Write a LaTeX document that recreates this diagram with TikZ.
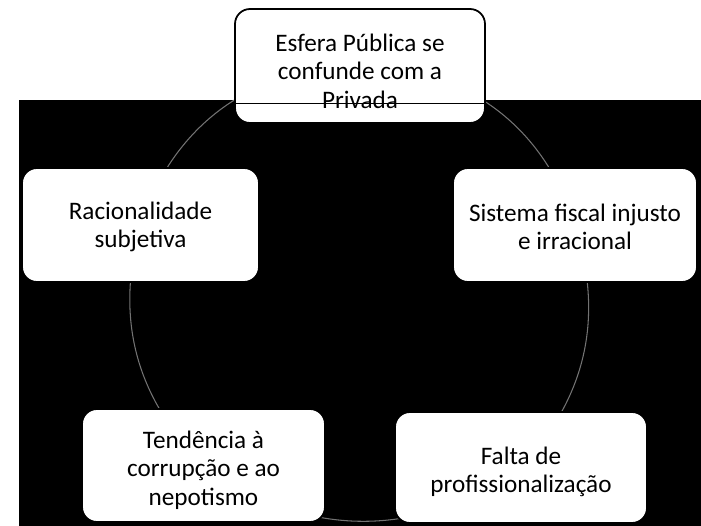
\documentclass[tikz,border=0pt]{standalone}
\usepackage{fontspec}
\setmainfont{Carlito}
\usetikzlibrary{backgrounds}
\tikzset{
  caixa/.style={draw=black, line width=1.5pt, fill=white, rounded corners=4.5mm,
    minimum height=34.2mm, inner sep=0pt},
  rotulo/.style={align=center, inner sep=0pt, font=\fontsize{21.5}{24}\selectfont},
  anel/.style={draw=black!55, line width=0.9pt},
}
\begin{document}
\begin{tikzpicture}[x=0.3mm,y=0.3mm]
\useasboundingbox (0,0) rectangle (701,-526);
\node[caixa,minimum width=75mm] (pub) at (360,-66) {};
\node[caixa,minimum width=71.1mm] (rac) at (140.5,-225) {};
\node[caixa,minimum width=73.2mm] (fis) at (575,-225) {};
\node[caixa,minimum width=72.9mm,minimum height=33.9mm] (cor) at (203.5,-465.5) {};
\node[caixa,minimum width=75.6mm,minimum height=33.3mm] (pro) at (521,-467.5) {};
% textos
\node[rotulo] (pubt) at ([yshift=-1.6mm]pub.center) {Esfera Pública se\\confunde com a\\Privada};
\node[rotulo] (ract) at ([yshift=-0.6mm]rac.center) {Racionalidade\\subjetiva};
\node[rotulo] (fist) at ([yshift=-0.6mm]fis.center) {Sistema fiscal injusto\\e irracional};
\node[rotulo] (cort) at ([yshift=-1.4mm]cor.center) {Tendência à\\corrupção e ao\\nepotismo};
\node[rotulo] (prot) at ([yshift=-1.3mm]pro.center) {Falta de\\profissionalização};
\begin{pgfonlayer}{background}
\fill[black] (19,-100) rectangle (701,-526);
% ciclo
\draw[anel] (pub.center) to[bend right=36] (rac.center);
\draw[anel] (rac.center) to[bend right=30] (cor.center);
\draw[anel] (cor.center) to[bend right=36] (pro.center);
\draw[anel] (pro.center) to[bend right=30] (fis.center);
\draw[anel] (fis.center) to[bend right=36] (pub.center);
\end{pgfonlayer}
\draw[line width=0.8pt] ([yshift=-11.1mm]pub.west) -- ([yshift=-11.1mm]pub.east);
\end{tikzpicture}
\end{document}
